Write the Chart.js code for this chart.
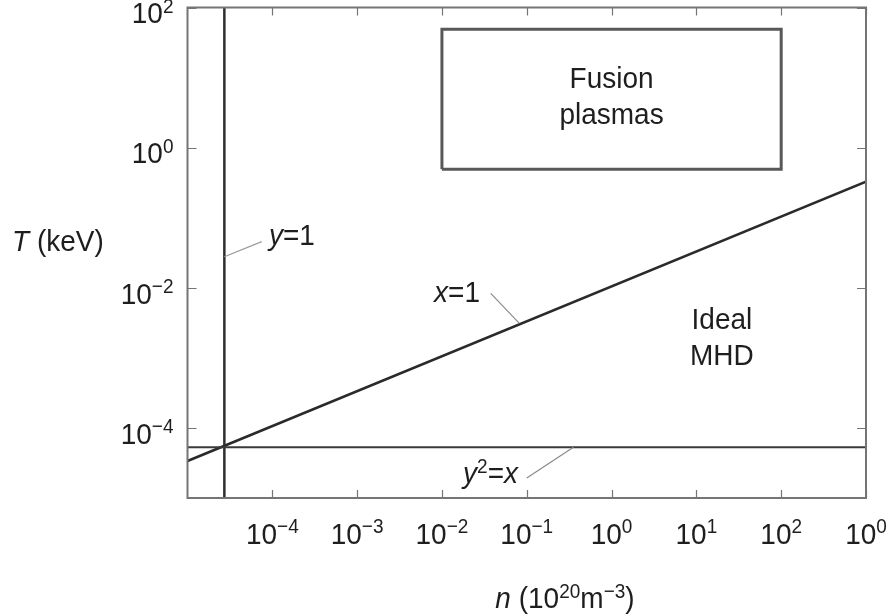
<!DOCTYPE html>
<html>
<head>
<meta charset="utf-8">
<script src="https://cdn.jsdelivr.net/npm/chart.js@4.4.1/dist/chart.umd.min.js"></script>
<style>
  body { margin: 0; background: #fff; }
  #wrap { width: 891px; height: 615px; position: relative; }
</style>
</head>
<body>
<div id="wrap"><canvas id="chart"></canvas></div>
<script>
// axis ticks (exponent shown as superscript; last x label is printed "10^0" in the original figure)
const xTicks = [1e-4, 1e-3, 1e-2, 1e-1, 1, 10, 100, 1000];
const xTickExp = ['\u22124', '\u22123', '\u22122', '\u22121', '0', '1', '2', '0'];
const yTicks = [1e-4, 1e-2, 1, 100];
const yTickExp = ['\u22124', '\u22122', '0', '2'];

// boundary lines (n, T)
const lineX1 = [{x: 1e-5, y: 3.37e-5}, {x: 1e3, y: 0.327}];
const lineY1 = [{x: 2.72e-5, y: 1e-5}, {x: 2.72e-5, y: 1e2}];
const lineY2X = [{x: 1e-5, y: 5.3e-5}, {x: 1e3, y: 5.3e-5}];
const fusionBox = [{x: 1e-2, y: 0.49}, {x: 1e2, y: 0.49}, {x: 1e2, y: 49}, {x: 1e-2, y: 49}, {x: 1e-2, y: 0.49}];

// leader lines for the curve labels
const leaderY1 = [{x: 2.72e-5, y: 0.0277}, {x: 7.5e-5, y: 0.0455}];
const leaderX1 = [{x: 0.0376, y: 0.00834}, {x: 0.0818, y: 0.0031}];
const leaderY2X = [{x: 0.1, y: 1.93e-5}, {x: 0.355, y: 5.3e-5}];

const FONT = "'Liberation Sans', Arial, Helvetica, sans-serif";
const SIZE = 28;
const SUP = 19;
const STRETCH = 1.08; // the scanned lettering is a bit taller than Arial

// label text pieces: t = text, i = italic, s = superscript
const notes = [
  {segs: [{t: 'y', i: 1}, {t: '=1'}], n: 9.14e-5, T: 0.0408, align: 'left'},
  {segs: [{t: 'x', i: 1}, {t: '=1'}], n: 0.0281, T: 0.00632, align: 'right'},
  {segs: [{t: 'y', i: 1}, {t: '2', s: 1}, {t: '='}, {t: 'x', i: 1}], n: 0.0789, T: 1.62e-5, align: 'right'},
  {segs: [{t: 'Fusion'}], n: 1, T: 7.03, align: 'center'},
  {segs: [{t: 'plasmas'}], n: 1, T: 2.17, align: 'center'},
  {segs: [{t: 'Ideal'}], n: 20, T: 0.00258, align: 'center'},
  {segs: [{t: 'MHD'}], n: 20, T: 7.9e-4, align: 'center'}
];

function segFont(s) {
  return (s.i ? 'italic ' : '') + (s.s ? SUP : SIZE) + 'px ' + FONT;
}

function drawRich(ctx, segs, x, y, align) {
  let widths = segs.map(s => { ctx.font = segFont(s); return ctx.measureText(s.t).width; });
  let total = widths.reduce((a, b) => a + b, 0);
  let cx = 0;
  if (align === 'center') cx = -total / 2;
  else if (align === 'right') cx = -total;
  ctx.save();
  ctx.translate(x, y);
  ctx.scale(1, STRETCH);
  ctx.textAlign = 'left';
  ctx.textBaseline = 'alphabetic';
  segs.forEach((s, k) => {
    ctx.font = segFont(s);
    ctx.fillText(s.t, cx, s.s ? -9.5 : 0);
    cx += widths[k];
  });
  ctx.restore();
}

const decor = {
  id: 'decor',
  afterDatasetsDraw(chart) {
    const {ctx, chartArea: a, scales} = chart;
    const xs = scales.x, ys = scales.y;
    ctx.save();
    // frame
    ctx.strokeStyle = '#757575';
    ctx.lineWidth = 2;
    ctx.strokeRect(a.left, a.top, a.right - a.left, a.bottom - a.top);
    // inward ticks on all sides
    ctx.lineWidth = 1.2;
    ctx.beginPath();
    xTicks.forEach(v => {
      const px = Math.round(xs.getPixelForValue(v)) + 0.5;
      ctx.moveTo(px, a.bottom); ctx.lineTo(px, a.bottom - 8);
      ctx.moveTo(px, a.top); ctx.lineTo(px, a.top + 8);
    });
    yTicks.forEach(v => {
      const py = Math.round(ys.getPixelForValue(v)) + 0.5;
      ctx.moveTo(a.left, py); ctx.lineTo(a.left + 9, py);
      ctx.moveTo(a.right, py); ctx.lineTo(a.right - 9, py);
    });
    ctx.stroke();

    ctx.fillStyle = '#1e1e1e';
    // tick labels
    xTicks.forEach((v, k) => {
      drawRich(ctx, [{t: '10'}, {t: xTickExp[k], s: 1}], xs.getPixelForValue(v), a.bottom + 45.5, 'center');
    });
    yTicks.forEach((v, k) => {
      drawRich(ctx, [{t: '10'}, {t: yTickExp[k], s: 1}], a.left - 14, ys.getPixelForValue(v) + 15.8, 'right');
    });
    // axis titles
    drawRich(ctx, [{t: 'T', i: 1}, {t: ' (keV)'}], 12, a.top + 243, 'left');
    drawRich(ctx, [{t: 'n', i: 1}, {t: ' (10'}, {t: '20', s: 1}, {t: 'm'}, {t: '\u22123', s: 1}, {t: ')'}],
      565, a.bottom + 110, 'center');
    // curve and region labels
    notes.forEach(nt => {
      drawRich(ctx, nt.segs, xs.getPixelForValue(nt.n), ys.getPixelForValue(nt.T), nt.align);
    });
    ctx.restore();
  }
};

function ln(data, color, width) {
  return {
    data: data, showLine: true, borderColor: color, borderWidth: width,
    pointRadius: 0, fill: false, tension: 0
  };
}

new Chart(document.getElementById('chart'), {
  type: 'scatter',
  data: {
    datasets: [
      ln(fusionBox, '#585858', 3),
      ln(leaderY1, '#9a9a9a', 1.2),
      ln(leaderX1, '#8a8a8a', 1.2),
      ln(leaderY2X, '#8a8a8a', 1.2),
      ln(lineY2X, '#3a3a3a', 2.2),
      ln(lineY1, '#2e2e2e', 2.5),
      ln(lineX1, '#2a2a2a', 2.6)
    ]
  },
  options: {
    responsive: true,
    maintainAspectRatio: false,
    animation: false,
    layout: { padding: { left: 187.5, top: 7.5, right: 25, bottom: 117 } },
    plugins: { legend: { display: false }, tooltip: { enabled: false } },
    scales: {
      x: { type: 'logarithmic', min: 1e-5, max: 1e3, display: false },
      y: { type: 'logarithmic', min: 1e-5, max: 1e2, display: false }
    }
  },
  plugins: [decor]
});
</script>
</body>
</html>
